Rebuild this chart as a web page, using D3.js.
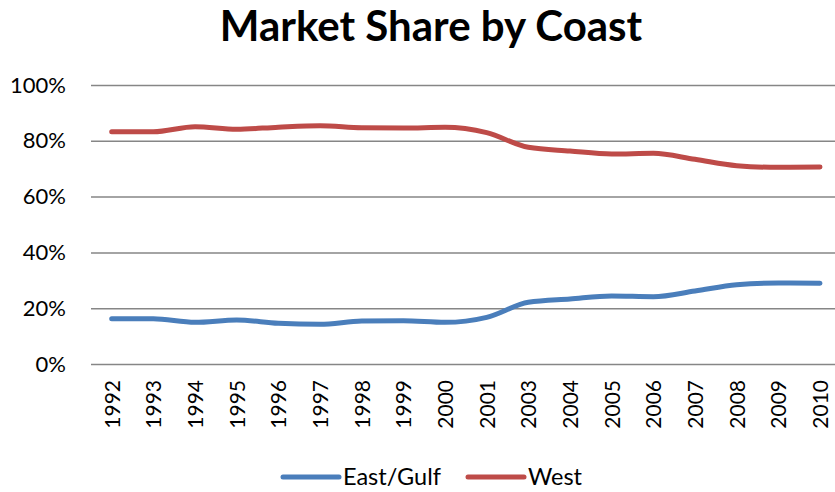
<!DOCTYPE html>
<html><head><meta charset="utf-8">
<script src="https://cdn.jsdelivr.net/npm/d3@7"></script>
<style>body{margin:0;background:#fff}svg{display:block}text{font-family:Lato,"Open Sans",sans-serif}</style>
</head><body><svg id="c" width="835" height="492"></svg>
<script>
const years = ["1992","1993","1994","1995","1996","1997","1998","1999","2000","2001","2003","2004","2005","2006","2007","2008","2009","2010"];
const eastGulf = [0.1625,0.1620,0.1493,0.1577,0.1458,0.1422,0.1541,0.1553,0.1493,0.1673,0.2210,0.2330,0.2437,0.2413,0.2616,0.2844,0.2903,0.2891];
const west = [0.8327,0.8327,0.8506,0.8411,0.8490,0.8542,0.8471,0.8459,0.8483,0.8291,0.7766,0.7634,0.7527,0.7551,0.7336,0.7109,0.7049,0.7061];
const yTicks = [0,0.2,0.4,0.6,0.8,1.0];
const seriesNames = ["East/Gulf","West"];
const seriesColors = ["#4A7EBB","#BE4B48"];

const svg = d3.select("#c");
const x = d3.scalePoint().domain(years).range([111.7, 820]);
const y = d3.scaleLinear().domain([0,1]).range([364, 85]);

svg.append("text").attr("x",431).attr("y",41).attr("text-anchor","middle")
  .attr("font-weight","bold").attr("font-size",42).attr("fill","#000").text("Market Share by Coast");

const grid = svg.append("g").attr("transform","translate(91,0)")
  .call(d3.axisLeft(y).tickValues(yTicks).tickSize(-750).tickFormat(d3.format(".0%")));
grid.select(".domain").remove();
grid.selectAll(".tick line").attr("stroke","#868686").attr("stroke-width",1.5);
grid.selectAll(".tick text").attr("x",-25).attr("font-size",22).attr("fill","#000")
  .attr("font-family","Lato,'Open Sans',sans-serif");

const xa = svg.append("g").attr("transform","translate(0,364)")
  .call(d3.axisBottom(x).tickSize(0));
xa.select(".domain").remove();
xa.selectAll(".tick text").attr("transform","rotate(-90)").attr("text-anchor","end")
  .attr("x",-16).attr("y",0).attr("dy","0.35em").attr("font-size",21).attr("fill","#000")
  .attr("font-family","Lato,'Open Sans',sans-serif");

const line = d3.line().x((d,i)=>x(years[i])).y(d=>y(d)).curve(d3.curveMonotoneX);
[eastGulf, west].forEach((s,k)=>{
  svg.append("path").datum(s).attr("d",line).attr("fill","none")
    .attr("stroke",seriesColors[k]).attr("stroke-width",5).attr("stroke-linecap","round").attr("stroke-linejoin","round");
});

const legX = [283, 468];
seriesNames.forEach((n,k)=>{
  const g = svg.append("g").attr("transform",`translate(${legX[k]},477)`);
  g.append("line").attr("x1",0).attr("x2",56).attr("stroke",seriesColors[k]).attr("stroke-width",5).attr("stroke-linecap","round");
  g.append("text").attr("x",60).attr("dy","0.35em").attr("font-size",23.5).attr("fill","#000").text(n);
});
</script></body></html>
